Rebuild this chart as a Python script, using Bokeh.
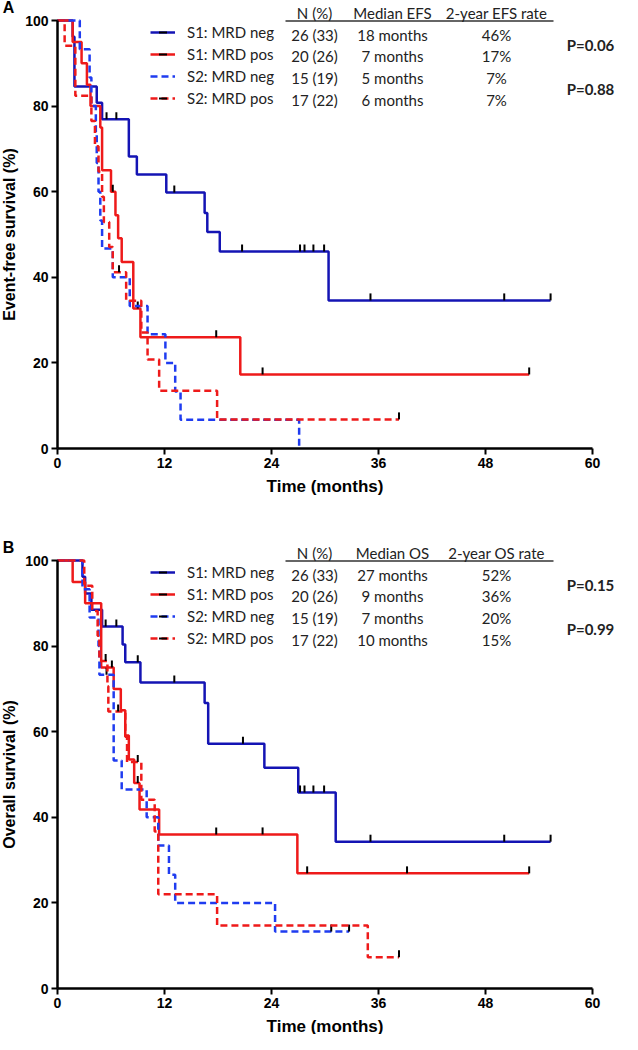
import numpy as np
from bokeh.plotting import figure
from bokeh.layouts import column
from bokeh.models import Range1d, Label, Legend, LegendItem, FixedTicker
from bokeh.embed import file_html
from bokeh.resources import INLINE

# ---------------- data ----------------
groups = ["S1: MRD neg", "S1: MRD pos", "S2: MRD neg", "S2: MRD pos"]
x_ticks = [0, 12, 24, 36, 48, 60]
y_ticks = [0, 20, 40, 60, 80, 100]

# Panel A: event-free survival (event times in months, survival in % after each event)
efs_s1neg_t = [1.7, 1.9, 4.4, 5.0, 8.0, 8.9, 12.2, 16.5, 16.8, 18.2, 30.4]
efs_s1neg_s = [96.2, 84.6, 80.8, 76.9, 68.2, 64.0, 59.8, 55.0, 50.6, 46.0, 34.6]
efs_s1neg_c = [5.5, 6.6, 13.1, 20.7, 27.2, 27.7, 28.7, 29.9, 35.1, 50.1, 55.3]

efs_s1pos_t = [1.7, 2.7, 3.3, 3.7, 4.8, 5.0, 6.0, 6.5, 6.8, 7.2, 8.5, 9.3, 20.5]
efs_s1pos_s = [95.0, 90.0, 85.0, 80.0, 75.0, 65.0, 60.0, 54.5, 49.1, 43.6, 32.7, 26.0, 17.3]
efs_s1pos_c = [6.2, 9.0, 17.8, 23.0, 52.9]

efs_s2neg_t = [2.5, 3.6, 3.8, 4.3, 4.4, 4.6, 4.8, 5.0, 6.2, 8.1, 10.1, 12.1, 13.2, 13.8, 27.1]
efs_s2neg_s = [93.3, 86.7, 80.0, 73.3, 66.7, 60.0, 53.3, 46.7, 40.0, 33.3, 26.7, 20.0, 13.3, 6.7, 0.0]
efs_s2neg_c = []

efs_s2pos_t = [0.8, 2.0, 3.8, 4.2, 4.6, 5.0, 5.2, 5.8, 6.2, 7.7, 9.4, 10.1, 11.4, 17.9]
efs_s2pos_s = [94.1, 82.4, 76.5, 70.6, 64.7, 58.8, 52.9, 47.1, 41.2, 34.5, 27.1, 20.8, 13.5, 6.8]
efs_s2pos_c = [6.9, 38.3]

efs_header = ["N (%)", "Median EFS", "2-year EFS rate"]
efs_n = ["26 (33)", "20 (26)", "15 (19)", "17 (22)"]
efs_median = ["18 months", "7 months", "5 months", "6 months"]
efs_rate = ["46%", "17%", "7%", "7%"]
efs_p = ["P=0.06", "P=0.88"]

# Panel B: overall survival
os_s1neg_t = [2.8, 3.1, 3.8, 5.0, 7.3, 7.6, 9.3, 16.5, 16.9, 23.2, 27.0, 31.2]
os_s1neg_s = [96.2, 92.3, 88.5, 84.6, 80.4, 76.2, 71.5, 66.7, 57.2, 51.6, 45.8, 34.3]
os_s1neg_c = [5.4, 6.6, 9.0, 13.1, 20.8, 27.2, 27.7, 28.7, 29.9, 35.1, 50.1, 55.3]

os_s1pos_t = [1.7, 3.1, 4.9, 6.3, 7.1, 7.6, 8.0, 8.6, 9.2, 11.4, 26.9]
os_s1pos_s = [95.0, 90.0, 75.0, 70.0, 65.0, 59.1, 53.5, 48.0, 41.8, 36.0, 26.9]
os_s1pos_c = [6.1, 9.0, 17.8, 23.0, 28.0, 39.2, 52.9]

os_s2neg_t = [2.8, 3.6, 4.6, 4.7, 6.3, 7.2, 10.0, 11.3, 12.5, 13.2, 24.4]
os_s2neg_s = [93.3, 86.7, 80.0, 73.3, 53.3, 46.5, 40.0, 33.4, 26.6, 20.0, 13.3]
os_s2neg_c = [5.5, 30.7, 32.7]

os_s2pos_t = [3.0, 3.9, 4.5, 4.7, 5.6, 5.7, 7.6, 7.8, 9.4, 10.9, 11.3, 17.9, 34.8]
os_s2pos_s = [94.1, 88.2, 82.4, 76.5, 70.6, 64.7, 58.8, 52.9, 44.1, 36.7, 22.0, 14.7, 7.3]
os_s2pos_c = [5.4, 6.8, 9.0, 38.3]

os_header = ["N (%)", "Median OS", "2-year OS rate"]
os_n = ["26 (33)", "20 (26)", "15 (19)", "17 (22)"]
os_median = ["27 months", "9 months", "7 months", "10 months"]
os_rate = ["52%", "36%", "20%", "15%"]
os_p = ["P=0.15", "P=0.99"]

# ---------------- style / layout ----------------
COLORS = ["#1414b4", "#ee1a1a", "#1f3cf0", "#ee1a1a"]
DASHES = ["solid", "solid", "7 4", "7 4"]
FIG_W = 622
X0_PX, X60_PX = 65, 600          # page x of 0 and 60 months
Y0_PX, Y100_PX = 456, 28          # page y of 0 % and 100 % (panel-relative layout)
XS = (X60_PX - X0_PX) / 60.0
YS = (Y0_PX - Y100_PX) / 100.0
TICK_FONT = "Liberation Sans"
TXT_FONT = "Lato"


def mx(xpage):          # page x -> months
    return (xpage - X0_PX) / XS


def my(ypage):          # panel page y -> %
    return (Y0_PX - ypage) / YS


def surv_at(t, s, times):
    te = np.asarray(t, dtype=float)
    se = np.concatenate([[100.0], np.asarray(s, dtype=float)])
    idx = np.searchsorted(te, np.asarray(times, dtype=float), side="right")
    return se[idx]


def panel(letter, ylabel, curves, header, ncol, medcol, ratecol, pvals, fig_h):
    top_page = 8
    p = figure(width=FIG_W, height=fig_h,
               x_range=Range1d(mx(8), mx(8 + FIG_W)),
               y_range=Range1d(my(top_page + fig_h), my(top_page)),
               output_backend="svg", toolbar_location=None,
               min_border_left=0, min_border_right=0, min_border_top=0, min_border_bottom=0)
    p.outline_line_color = None
    p.grid.visible = False
    p.background_fill_color = "white"

    for ax in (p.xaxis[0], p.yaxis[0]):
        ax.axis_line_width = 2.5
        ax.axis_line_color = "black"
        ax.major_tick_line_width = 2
        ax.major_tick_line_color = "black"
        ax.major_tick_out = 6
        ax.major_tick_in = 0
        ax.minor_tick_line_color = None
        ax.major_label_text_font = TICK_FONT
        ax.major_label_text_font_style = "bold"
        ax.major_label_text_font_size = "14px"
        ax.major_label_text_color = "black"
        ax.axis_label_text_font = TICK_FONT
        ax.axis_label_text_font_style = "bold"
        ax.axis_label_text_color = "black"
        ax.fixed_location = 0
    p.xaxis[0].axis_label_text_font_size = "17px"
    p.yaxis[0].axis_label_text_font_size = "16px"
    p.xaxis[0].bounds = (0, 60)
    p.yaxis[0].bounds = (0, 100)
    p.xaxis[0].ticker = FixedTicker(ticks=x_ticks)
    p.yaxis[0].ticker = FixedTicker(ticks=y_ticks)
    p.xaxis[0].major_label_standoff = 3
    p.yaxis[0].major_label_standoff = 3
    p.xaxis[0].axis_label = "Time (months)"
    p.yaxis[0].axis_label = ylabel
    p.xaxis[0].axis_label_standoff = 6
    p.yaxis[0].axis_label_standoff = 4

    items = []
    for (t, s, c), name, color, dash in zip(curves, groups, COLORS, DASHES):
        end = max([t[-1]] + list(c))
        xs = [0.0] + list(t) + [end]
        ys = [100.0] + list(s) + [s[-1]]
        r = p.step(xs, ys, mode="after", line_color=color, line_width=2.5, line_dash=dash)
        cy = list(surv_at(t, s, c) + 3.5 / YS) if len(c) else []
        m = p.scatter(list(c), cy, marker="dash", angle=np.pi / 2, size=7,
                      line_color="black", line_width=2)
        items.append(LegendItem(label=name, renderers=[r, m]))

    # legend: first row centred at page y 40, glyph starting at page x 158
    leg_h = 4 * 20 + 3 * 2
    leg = Legend(items=items, location=(158 - 8, fig_h - (30 - top_page) - leg_h),
                 padding=0, margin=0, spacing=2,
                 glyph_width=25, glyph_height=20, label_standoff=12,
                 label_text_font=TXT_FONT, label_text_font_size="15px", label_text_color="#222222",
                 border_line_color=None, background_fill_alpha=0)
    p.add_layout(leg)

    def txt(s, xpage, ypage, bold=False, size="15px", font=TXT_FONT, color="#222222"):
        p.add_layout(Label(x=mx(xpage), y=my(ypage), text=s, text_align="center",
                           text_baseline="middle", text_font=font, text_font_size=size,
                           text_color=color, text_font_style="bold" if bold else "normal"))

    col_x = [322, 400, 504]
    row_y = [42, 63.5, 85, 107]
    for hx, h in zip(col_x, header):
        txt(h, hx, 20)
    for i in range(4):
        txt(ncol[i], col_x[0], row_y[i])
        txt(medcol[i], col_x[1], row_y[i])
        txt(ratecol[i], col_x[2], row_y[i])
    txt(pvals[0], 598, 52.5, bold=True)
    txt(pvals[1], 598, 96, bold=True)
    p.segment(x0=[mx(293)], y0=[my(28.5)], x1=[mx(561)], y1=[my(28.5)],
              line_color="#333333", line_width=1.5)
    txt(letter, 16, 15, bold=True, size="16px", font=TICK_FONT, color="black")
    return p


efs_curves = [(efs_s1neg_t, efs_s1neg_s, efs_s1neg_c), (efs_s1pos_t, efs_s1pos_s, efs_s1pos_c),
              (efs_s2neg_t, efs_s2neg_s, efs_s2neg_c), (efs_s2pos_t, efs_s2pos_s, efs_s2pos_c)]
os_curves = [(os_s1neg_t, os_s1neg_s, os_s1neg_c), (os_s1pos_t, os_s1pos_s, os_s1pos_c),
             (os_s2neg_t, os_s2neg_s, os_s2neg_c), (os_s2pos_t, os_s2pos_s, os_s2pos_c)]

pA = panel("A", "Event-free survival (%)", efs_curves, efs_header, efs_n, efs_median, efs_rate, efs_p, 540)
pB = panel("B", "Overall survival (%)", os_curves, os_header, os_n, os_median, os_rate, os_p, 494)

layout = column(pA, pB, spacing=0)
open("out.html", "w").write(file_html(layout, INLINE))
